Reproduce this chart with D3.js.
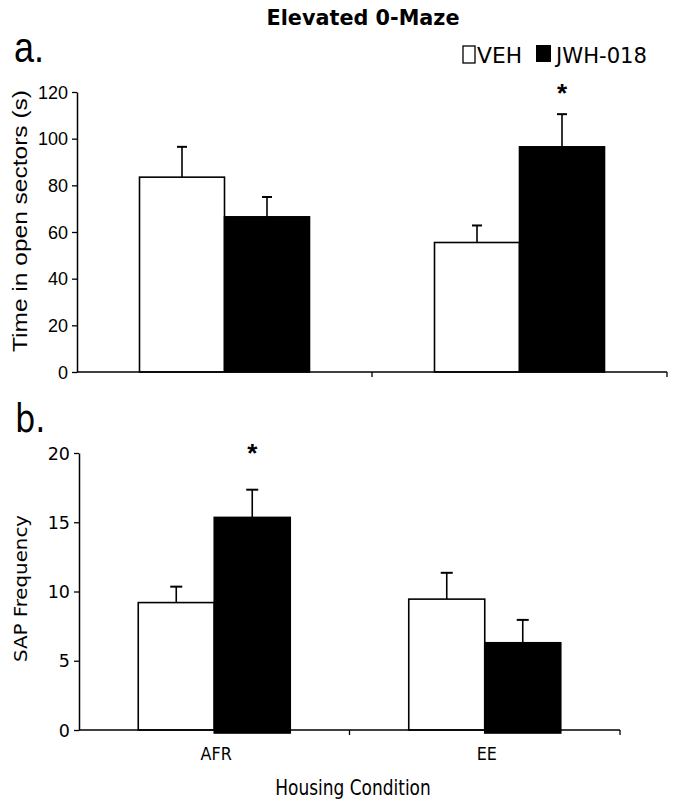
<!DOCTYPE html>
<html><head><meta charset="utf-8">
<script src="https://cdn.jsdelivr.net/npm/d3@7/dist/d3.min.js"></script>
<style>body{margin:0;background:#fff}svg{display:block}</style>
</head><body>
<svg id="c" width="685" height="808"></svg>
<script>
const groups = ["AFR", "EE"];
const series = ["VEH", "JWH-018"];
const seriesFill = ["#fff", "#000"];
// Panel a: time in open sectors (s)
const timeMean = [[83.5, 66.5], [55.5, 96.5]];
const timeErr  = [[13, 8.5], [7.3, 14]];
const timeTicks = [0, 20, 40, 60, 80, 100, 120];
const timeSig = [[false, false], [false, true]];
// Panel b: SAP frequency
const sapMean = [[9.2, 15.35], [9.45, 6.3]];
const sapErr  = [[1.15, 2.0], [1.9, 1.65]];
const sapTicks = [0, 5, 10, 15, 20];
const sapSig = [[false, true], [false, false]];

const svg = d3.select("#c");
const sans = "Liberation Sans, Arial, sans-serif";
const ver = "DejaVu Sans, Verdana, sans-serif";

function stext(x, y, sy, txt, opts) {
  const t = svg.append("text").attr("transform", `translate(${x},${y}) scale(1,${sy})`)
    .attr("font-family", opts.font).attr("font-size", opts.size).attr("fill", "#000").text(txt);
  if (opts.anchor) t.attr("text-anchor", opts.anchor);
  if (opts.weight) t.attr("font-weight", opts.weight);
  if (opts.len) t.attr("textLength", opts.len).attr("lengthAdjust", "spacingAndGlyphs");
  return t;
}

stext(363, 25, 1.1, "Elevated 0-Maze", {font: ver, size: 20, weight: "bold", anchor: "middle", len: 193});

// legend
svg.append("rect").attr("x", 463).attr("y", 46).attr("width", 12).attr("height", 17).attr("fill", seriesFill[0]).attr("stroke", "#000").attr("stroke-width", 1.3);
stext(477, 63.3, 1.1, series[0], {font: ver, size: 19, len: 45});
svg.append("rect").attr("x", 536).attr("y", 45).attr("width", 15).attr("height", 17).attr("fill", seriesFill[1]);
stext(556, 63.3, 1.1, series[1], {font: ver, size: 19, len: 91});

function panel(o) {
  const g = svg.append("g");
  const y = d3.scaleLinear().domain([0, o.max]).range([o.y0, o.y1]);
  const x = d3.scaleBand().domain(groups).range([o.x0, o.x1]);
  groups.forEach((grp, gi) => {
    const c = x(grp) + x.bandwidth() / 2;
    const xs = d3.scaleBand().domain(series).range([c - o.half, c + o.half]);
    series.forEach((s, si) => {
      const v = o.mean[gi][si], e = o.err[gi][si];
      const bx = xs(s), bw = xs.bandwidth();
      const cx = bx + bw / 2;
      g.append("line").attr("x1", cx).attr("x2", cx).attr("y1", y(v)).attr("y2", y(v + e)).attr("stroke", "#000").attr("stroke-width", 1.6);
      g.append("line").attr("x1", cx - o.cap).attr("x2", cx + o.cap).attr("y1", y(v + e)).attr("y2", y(v + e)).attr("stroke", "#000").attr("stroke-width", 2);
      g.append("rect").attr("x", bx).attr("y", y(v)).attr("width", bw).attr("height", y(0) - y(v) + (si === 1 ? o.extra : 0))
        .attr("fill", seriesFill[si]).attr("stroke", "#000").attr("stroke-width", 1.6);
      if (o.sig[gi][si]) {
        g.append("text").attr("x", cx).attr("y", y(v + e) - o.starGap).attr("text-anchor", "middle")
          .attr("font-family", sans).attr("font-weight", "bold").attr("font-size", 26).text("*");
      }
    });
  });
  const ya = g.append("g").attr("transform", `translate(${o.x0},0)`)
    .call(d3.axisLeft(y).tickValues(o.ticks).tickSize(5).tickPadding(4).tickSizeOuter(0).tickFormat(d3.format("d")));
  ya.select(".domain").attr("stroke-width", 1.5);
  ya.selectAll(".tick line").attr("stroke-width", 1.3);
  ya.selectAll(".tick text").attr("font-family", o.font).attr("font-size", o.tsize).attr("fill", "#000")
    .attr("dy", null).attr("y", 0).attr("dominant-baseline", "central");
  const xa = g.append("g").attr("transform", `translate(0,${o.y0})`);
  xa.append("line").attr("x1", o.x0).attr("x2", o.x1).attr("y1", 0).attr("y2", 0).attr("stroke", "#000").attr("stroke-width", 1.5);
  groups.forEach(grp => {
    const xe = x(grp) + x.bandwidth();
    xa.append("line").attr("x1", xe).attr("x2", xe).attr("y1", 0).attr("y2", 5).attr("stroke", "#000").attr("stroke-width", 1.3);
  });
  return {g, x, y};
}

const pa = panel({x0: 77, x1: 667, y0: 372, y1: 92, max: 120, mean: timeMean, err: timeErr, sig: timeSig,
  ticks: timeTicks, half: 85, cap: 5, extra: 0, font: sans, tsize: 18, starGap: 12});
const pb = panel({x0: 79, x1: 620, y0: 730, y1: 453, max: 20, mean: sapMean, err: sapErr, sig: sapSig,
  ticks: sapTicks, half: 76, cap: 6, extra: 3, font: ver, tsize: 17.5, starGap: 28});

stext(14, 61.7, 1.17, "a.", {font: sans, size: 36});
stext(15, 431.7, 1.22, "b.", {font: ver, size: 32});

svg.append("text").attr("transform", "translate(26.5,221) rotate(-90)").attr("text-anchor", "middle")
  .attr("font-family", sans).attr("font-size", 20).attr("textLength", 262).attr("lengthAdjust", "spacingAndGlyphs")
  .text("Time in open sectors (s)");
svg.append("text").attr("transform", "translate(27,588.5) rotate(-90)").attr("text-anchor", "middle")
  .attr("font-family", ver).attr("font-size", 18).attr("textLength", 147).attr("lengthAdjust", "spacingAndGlyphs")
  .text("SAP Frequency");

groups.forEach(grp => {
  stext(pb.x(grp) + pb.x.bandwidth() / 2 + 2, 760, 1.15, grp, {font: ver, size: 16, anchor: "middle"});
});
stext(353, 795, 1.2, "Housing Condition", {font: ver, size: 17, anchor: "middle"});
</script>
</body></html>
